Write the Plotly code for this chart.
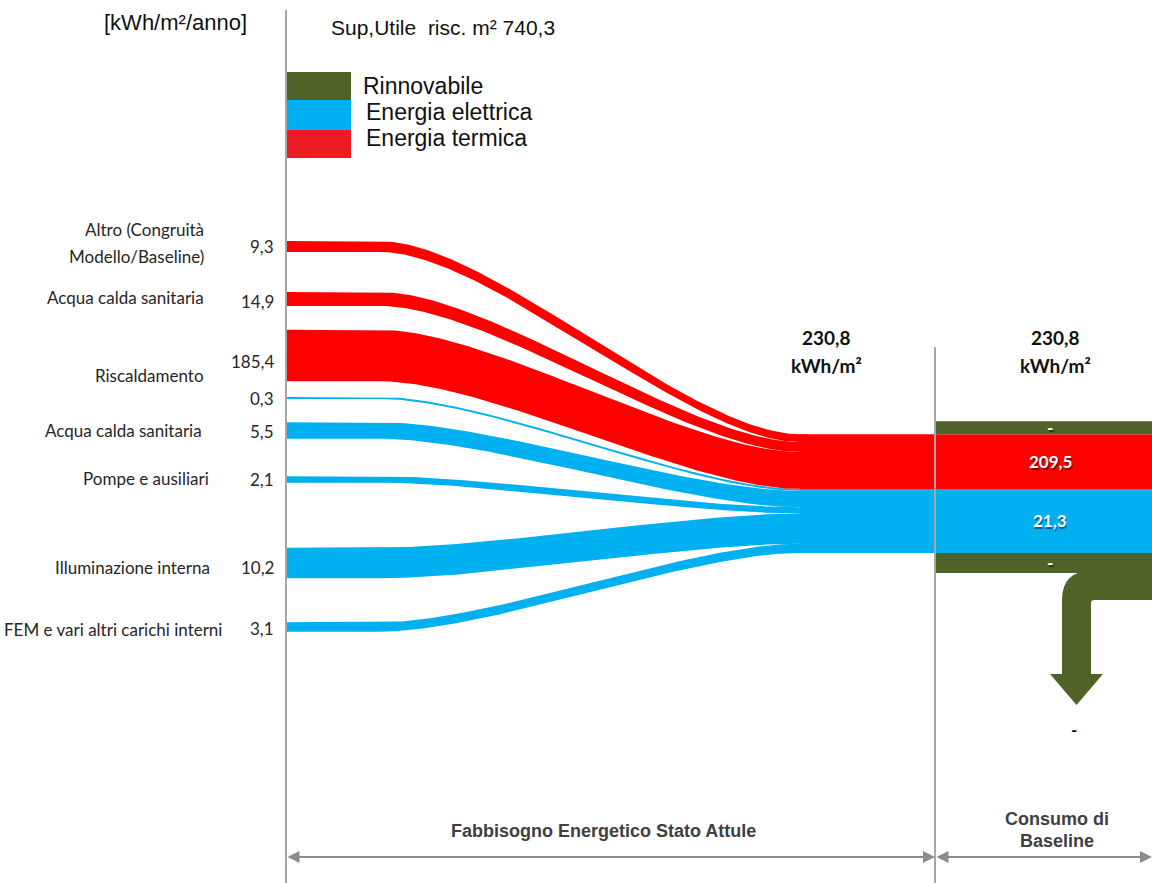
import numpy as np
import plotly.graph_objects as go

# ---------------- data ----------------
end_uses = [
    "Altro (Congruità\nModello/Baseline)",
    "Acqua calda sanitaria",
    "Riscaldamento",
    "",
    "Acqua calda sanitaria",
    "Pompe e ausiliari",
    "Illuminazione interna",
    "FEM e vari altri carichi interni",
]
end_use_carrier = ["termica", "termica", "termica",
                   "elettrica", "elettrica", "elettrica", "elettrica", "elettrica"]
end_use_kwh_m2 = [9.3, 14.9, 185.4, 0.3, 5.5, 2.1, 10.2, 3.1]

legend_labels = ["Rinnovabile", "Energia elettrica", "Energia termica"]
legend_keys = ["rinnovabile", "elettrica", "termica"]

baseline_termica = 209.5
baseline_elettrica = 21.3
baseline_rinnovabile_in = 0.0
baseline_rinnovabile_out = 0.0
total_demand = 230.8
total_baseline = 230.8
heated_area_m2 = 740.3

unit_label = "[kWh/m²/anno]"
section_labels = ["Fabbisogno Energetico Stato Attule", "Consumo di", "Baseline"]

# ---------------- style ----------------
COLORS = {"termica": "#FF0000", "elettrica": "#00B0F0", "rinnovabile": "#4F6228"}
LEGEND_COLORS = {"termica": "#ED1C24", "elettrica": "#00B0F0", "rinnovabile": "#4F6228"}
AXIS_GREY = "#A6A6A6"
ARROW_GREY = "#8C8C8C"
TEXT = "#262626"
BODY_FONT = "Lato, Carlito, Calibri, sans-serif"
ARIAL = "Liberation Sans, Arial, sans-serif"
NARROW = "Liberation Sans Narrow, Arial Narrow, Liberation Sans, sans-serif"

W, H = 1152, 883
X_AXIS = 286        # left column line
X_BEND0 = 380       # strips leave the column here
X_BEND1 = 800       # strips join the trunk here
HANDLE = 110        # bezier handle length
X_SPLIT = 935       # section boundary
X_END = 1152
ROW_Y = [246.5, 299, 355.5, 398, 430.5, 479.5, 563, 627]
LABEL_Y = [242.5, 297, 375, 398, 430, 478, 567, 629]
LABEL_X = [206, 206, 206, 206, 204, 211, 212, 224]
VALUE_Y = [246, 301, 361, 398, 431, 479, 567, 628]
VALUE_X = 276
JUNCTION_Y = 489    # boundary between thermal and electric trunk
RENEW_TOP_H = 13
RENEW_BOT_H = 20


def fmt(v):
    return "-" if v == 0 else f"{v:.1f}".replace(".", ",")


def band_px(value, carrier):
    """Displayed band thickness for a flow value."""
    if carrier == "termica":
        return 3.4 * value ** 0.52
    return max(3.0 * value, 2.0)


fig = go.Figure()
shapes = []
annotations = []

# ---------------- trunk ----------------
h_t = band_px(baseline_termica, "termica")
h_e = band_px(baseline_elettrica, "elettrica")
y_t0 = JUNCTION_Y - h_t
y_e1 = JUNCTION_Y + h_e
trunk = {"termica": (y_t0, h_t), "elettrica": (JUNCTION_Y, h_e)}

# stack each strip's end inside its carrier trunk
n = len(end_use_kwh_m2)
w_start = [band_px(v, c) for v, c in zip(end_use_kwh_m2, end_use_carrier)]
end_center = [0.0] * n
end_w = [0.0] * n
for carrier, (top, height) in trunk.items():
    idx = [i for i in range(n) if end_use_carrier[i] == carrier]
    scale = height / sum(w_start[i] for i in idx)
    cursor = top
    for i in idx:
        end_w[i] = w_start[i] * scale
        end_center[i] = cursor + end_w[i] / 2
        cursor += end_w[i]

# ---------------- strips ----------------
t = np.linspace(0, 1, 160)
b0, b1, b2, b3 = (1 - t) ** 3, 3 * (1 - t) ** 2 * t, 3 * (1 - t) * t ** 2, t ** 3
bx = b0 * X_BEND0 + b1 * (X_BEND0 + HANDLE) + b2 * (X_BEND1 - HANDLE) + b3 * X_BEND1


def strip_polygon(i):
    y0, y1 = ROW_Y[i], end_center[i]
    by = (b0 + b1) * y0 + (b2 + b3) * y1
    w = w_start[i] + (end_w[i] - w_start[i]) * (b2 + b3)
    xs = np.concatenate([[X_AXIS], bx, [X_BEND1 + 8]])
    top = np.concatenate([[y0 - w_start[i] / 2], by - w / 2, [y1 - end_w[i] / 2]])
    bot = np.concatenate([[y0 + w_start[i] / 2], by + w / 2, [y1 + end_w[i] / 2]])
    return np.concatenate([xs, xs[::-1]]), np.concatenate([top, bot[::-1]])


# electric strips first, thermal drawn over them
for carrier in ("elettrica", "termica"):
    for i in range(n):
        if end_use_carrier[i] != carrier:
            continue
        px, py = strip_polygon(i)
        fig.add_trace(go.Scatter(
            x=px, y=py, mode="lines", fill="toself",
            fillcolor=COLORS[carrier], line=dict(width=0, color=COLORS[carrier]),
            hoverinfo="skip", showlegend=False,
        ))

# trunk blocks
shapes.append(dict(type="rect", x0=X_BEND1, x1=X_END, y0=y_t0, y1=JUNCTION_Y,
                   fillcolor=COLORS["termica"], line_width=0, layer="above"))
shapes.append(dict(type="rect", x0=X_BEND1, x1=X_END, y0=JUNCTION_Y, y1=y_e1,
                   fillcolor=COLORS["elettrica"], line_width=0, layer="above"))

# renewable bars of the baseline section
ren_top = (y_t0 - RENEW_TOP_H, y_t0)
ren_bot = (y_e1, y_e1 + RENEW_BOT_H)
for y0, y1 in (ren_top, ren_bot):
    shapes.append(dict(type="rect", x0=X_SPLIT, x1=X_END, y0=y0, y1=y1,
                       fillcolor=COLORS["rinnovabile"], line_width=0, layer="above"))

# elbow arrow leaving the lower renewable bar
SHAFT_L, SHAFT_W, HEAD_W, HEAD_H, TIP_Y = 1062, 29, 53, 31, 705
arm_top = ren_bot[1] - 2
arm_bot = arm_top + SHAFT_W
shaft_r = SHAFT_L + SHAFT_W
mid = SHAFT_L + SHAFT_W / 2
head_y = TIP_Y - HEAD_H
elbow = (
    f"M {X_END} {arm_top} L {shaft_r} {arm_top} "
    f"Q {SHAFT_L} {arm_top} {SHAFT_L} {arm_bot} "
    f"L {SHAFT_L} {head_y} L {mid - HEAD_W / 2} {head_y} L {mid} {TIP_Y} "
    f"L {mid + HEAD_W / 2} {head_y} L {shaft_r} {head_y} "
    f"L {shaft_r} {arm_bot + 3} Q {shaft_r} {arm_bot} {shaft_r + 3} {arm_bot} "
    f"L {X_END} {arm_bot} Z"
)
shapes.append(dict(type="path", path=elbow, fillcolor=COLORS["rinnovabile"],
                   line_width=0, layer="above"))

# legend swatches
LEG_Y = [72, 100, 130, 158]
LEG_TEXT_Y = [86, 112, 138]
for k, key in enumerate(legend_keys):
    shapes.append(dict(type="rect", x0=X_AXIS, x1=351, y0=LEG_Y[k], y1=LEG_Y[k + 1],
                       fillcolor=LEGEND_COLORS[key], line_width=0, layer="above"))
    annotations.append(dict(x=361 if k == 0 else 364, y=LEG_TEXT_Y[k],
                            text=legend_labels[k], showarrow=False, xanchor="left",
                            font=dict(family=ARIAL, size=23, color="#111111")))

# column lines
shapes.append(dict(type="line", x0=X_AXIS, x1=X_AXIS, y0=10, y1=H,
                   line=dict(color=AXIS_GREY, width=2), layer="above"))
shapes.append(dict(type="line", x0=X_SPLIT, x1=X_SPLIT, y0=347, y1=H,
                   line=dict(color=AXIS_GREY, width=2), layer="above"))

# ---------------- texts ----------------
annotations.append(dict(x=249, y=22, text=unit_label, showarrow=False, xanchor="right",
                        font=dict(family=ARIAL, size=22, color="#111111")))
annotations.append(dict(x=329, y=27,
                        text=f"Sup,Utile  risc. m² {fmt(heated_area_m2)}",
                        showarrow=False, xanchor="left",
                        font=dict(family=ARIAL, size=21, color="#111111")))

for i in range(n):
    lines = end_uses[i].split("\n")
    for j, line in enumerate(lines):
        if not line:
            continue
        yy = LABEL_Y[i] + (j - (len(lines) - 1) / 2) * 27
        annotations.append(dict(x=LABEL_X[i], y=yy, text=line, showarrow=False,
                                xanchor="right",
                                font=dict(family=BODY_FONT, size=17, color=TEXT)))
    annotations.append(dict(x=VALUE_X, y=VALUE_Y[i], text=fmt(end_use_kwh_m2[i]),
                            showarrow=False, xanchor="right",
                            font=dict(family=BODY_FONT, size=17, color=TEXT)))

for cx, total in ((826, total_demand), (1055, total_baseline)):
    annotations.append(dict(x=cx, y=337, text=f"<b>{fmt(total)}</b>", showarrow=False,
                            font=dict(family=BODY_FONT, size=19, color="#111111")))
    annotations.append(dict(x=cx, y=365, text="<b>kWh/m²</b>", showarrow=False,
                            font=dict(family=BODY_FONT, size=19, color="#111111")))

# values inside the baseline blocks (white with a soft shadow)
VAL_X = 1050
block_labels = [
    ((ren_top[0] + ren_top[1]) / 2, fmt(baseline_rinnovabile_in)),
    ((y_t0 + JUNCTION_Y) / 2, fmt(baseline_termica)),
    ((JUNCTION_Y + y_e1) / 2, fmt(baseline_elettrica)),
    ((ren_bot[0] + ren_bot[1]) / 2, fmt(baseline_rinnovabile_out)),
]
for yy, txt in block_labels:
    annotations.append(dict(x=VAL_X + 1, y=yy + 1.5, text=f"<b>{txt}</b>", showarrow=False,
                            font=dict(family=BODY_FONT, size=17, color="rgba(0,0,0,0.45)")))
    annotations.append(dict(x=VAL_X, y=yy, text=f"<b>{txt}</b>", showarrow=False,
                            font=dict(family=BODY_FONT, size=17, color="white")))
annotations.append(dict(x=mid - 3, y=TIP_Y + 24, text=f"<b>{fmt(baseline_rinnovabile_out)}</b>",
                        showarrow=False,
                        font=dict(family=BODY_FONT, size=17, color="#111111")))

# section arrows and captions
ARROW_Y = 857
for xa, xb in ((X_AXIS, X_SPLIT), (X_SPLIT, X_END)):
    annotations.append(dict(x=xb, y=ARROW_Y, ax=xa, ay=ARROW_Y, xref="x", yref="y",
                            axref="x", ayref="y", text="", showarrow=True,
                            arrowside="end+start", arrowhead=2, startarrowhead=2,
                            arrowsize=1.2, startarrowsize=1.2, arrowwidth=2,
                            arrowcolor=ARROW_GREY, standoff=0, startstandoff=0))
annotations.append(dict(x=603, y=831, text=f"<b>{section_labels[0]}</b>", showarrow=False,
                        font=dict(family=NARROW, size=18, color="#404040")))
annotations.append(dict(x=1057, y=819, text=f"<b>{section_labels[1]}</b>", showarrow=False,
                        font=dict(family=NARROW, size=18, color="#404040")))
annotations.append(dict(x=1057, y=841, text=f"<b>{section_labels[2]}</b>", showarrow=False,
                        font=dict(family=NARROW, size=18, color="#404040")))

for a in annotations:
    a.setdefault("xref", "x")
    a.setdefault("yref", "y")

fig.update_layout(
    width=W, height=H,
    margin=dict(l=0, r=0, t=0, b=0),
    paper_bgcolor="white", plot_bgcolor="white",
    xaxis=dict(range=[0, W], visible=False, fixedrange=True),
    yaxis=dict(range=[H, 0], visible=False, fixedrange=True),
    shapes=shapes, annotations=annotations, showlegend=False,
)

fig.write_html("out.html", config={"displayModeBar": False})
